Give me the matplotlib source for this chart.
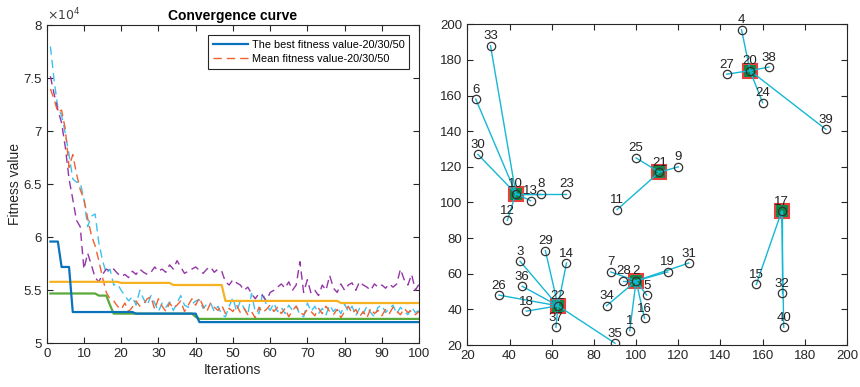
import numpy as np
import matplotlib
matplotlib.use('Agg')
import matplotlib.pyplot as plt

plt.rcParams['font.family'] = ['Liberation Sans', 'DejaVu Sans']

# ---- convergence data (fitness in units of 1e4) ----
iters = np.arange(1, 101)

best_a = [5.96]*3 + [5.72]*3 + [5.295]*17 + [5.28]*17 + [5.20]*60
best_b = [5.47]*13 + [5.45]*3 + [5.36] + [5.28]*22 + [5.25] + [5.23]*60
best_c = [5.58]*19 + [5.57]*14 + [5.55]*14 + [5.40]*31 + [5.38]*22

mean_a = [7.40, 7.30, 7.18, 7.20, 7.02, 6.66, 6.78, 6.60, 6.45, 6.36,
          6.18, 6.02, 5.92, 5.78, 5.62, 5.48, 5.42, 5.40, 5.35, 5.32,
          5.38, 5.30, 5.34, 5.40, 5.35, 5.37, 5.42, 5.44, 5.32, 5.42,
          5.35, 5.30, 5.38, 5.33, 5.36, 5.40, 5.30, 5.36, 5.42, 5.36,
          5.43, 5.35, 5.30, 5.38, 5.34, 5.31, 5.36, 5.28, 5.33, 5.30,
          5.36, 5.29, 5.33, 5.27, 5.30, 5.24, 5.34, 5.29, 5.32, 5.36,
          5.30, 5.34, 5.28, 5.33, 5.25, 5.31, 5.35, 5.29, 5.27, 5.32,
          5.30, 5.26, 5.33, 5.28, 5.35, 5.30, 5.27, 5.32, 5.24, 5.30,
          5.35, 5.28, 5.32, 5.25, 5.30, 5.24, 5.33, 5.28, 5.31, 5.26,
          5.32, 5.28, 5.34, 5.30, 5.27, 5.33, 5.29, 5.31, 5.27, 5.30]
mean_b = [7.52, 7.35, 7.20, 7.08, 6.85, 6.55, 6.36, 6.16, 6.10, 5.70,
          5.85, 5.74, 5.62, 5.58, 5.65, 5.70, 5.68, 5.70, 5.66, 5.63,
          5.65, 5.62, 5.68, 5.65, 5.70, 5.67, 5.65, 5.67, 5.72, 5.68,
          5.70, 5.67, 5.74, 5.70, 5.78, 5.72, 5.66, 5.68, 5.70, 5.72,
          5.69, 5.66, 5.70, 5.72, 5.67, 5.70, 5.68, 5.58, 5.55, 5.60,
          5.57, 5.55, 5.50, 5.53, 5.47, 5.42, 5.47, 5.45, 5.40, 5.48,
          5.50, 5.53, 5.56, 5.52, 5.58, 5.50, 5.55, 5.77, 5.48, 5.60,
          5.47, 5.50, 5.45, 5.55, 5.50, 5.64, 5.52, 5.48, 5.56, 5.50,
          5.55, 5.57, 5.50, 5.58, 5.55, 5.53, 5.50, 5.56, 5.53, 5.55,
          5.52, 5.56, 5.53, 5.56, 5.70, 5.60, 5.55, 5.65, 5.50, 5.56]
mean_c = [7.80, 7.48, 7.22, 7.15, 6.98, 6.78, 6.55, 6.52, 6.52, 6.36,
          6.10, 6.20, 6.22, 5.95, 5.78, 5.66, 5.70, 5.55, 5.56, 5.50,
          5.45, 5.40, 5.44, 5.36, 5.50, 5.42, 5.36, 5.45, 5.38, 5.30,
          5.38, 5.34, 5.39, 5.31, 5.38, 5.45, 5.36, 5.34, 5.37, 5.40,
          5.41, 5.33, 5.37, 5.38, 5.30, 5.35, 5.27, 5.25, 5.35, 5.43,
          5.30, 5.40, 5.33, 5.27, 5.47, 5.30, 5.28, 5.48, 5.36, 5.31,
          5.38, 5.30, 5.34, 5.28, 5.36, 5.31, 5.35, 5.27, 5.25, 5.38,
          5.30, 5.35, 5.28, 5.33, 5.27, 5.36, 5.30, 5.34, 5.28, 5.37,
          5.30, 5.35, 5.26, 5.33, 5.28, 5.35, 5.29, 5.25, 5.34, 5.36,
          5.29, 5.33, 5.36, 5.28, 5.34, 5.30, 5.27, 5.34, 5.29, 5.31]

# ---- clustering data ----
node_x = [97, 100, 45, 150, 105, 24, 88, 55, 120, 43,
          91, 39, 50, 67, 157, 104, 169, 48, 115, 154,
          111, 63, 67, 160, 100, 35, 143, 94, 57, 25,
          125, 169, 31, 86, 90, 46, 62, 163, 190, 170]
node_y = [28, 56, 67, 197, 48, 158, 61, 105, 120, 105,
          96, 90, 101, 66, 54, 35, 95, 39, 61, 174,
          117, 42, 105, 156, 125, 48, 172, 56, 73, 127,
          66, 49, 188, 42, 21, 53, 30, 176, 141, 30]
centers = [2, 10, 17, 20, 21, 22]
# cluster center of each node (1-based ids)
node_center = [2, 2, 22, 20, 2, 10, 2, 10, 21, 10,
               21, 10, 10, 22, 17, 2, 17, 22, 2, 20,
               21, 22, 10, 20, 21, 22, 20, 2, 22, 10,
               2, 17, 10, 2, 22, 22, 22, 20, 20, 17]

fig = plt.figure(figsize=(8.6, 3.87), dpi=100)
ax1 = fig.add_axes([0.0543, 0.1129, 0.433, 0.8217])
ax2 = fig.add_axes([0.5434, 0.1085, 0.4415, 0.8287])

dash = (0, (6, 3.6))
ax1.plot(iters, mean_c, color='#3CC2EE', lw=1.0, linestyle=dash)
ax1.plot(iters, mean_b, color='#9435A6', lw=1.0, linestyle=dash)
l2, = ax1.plot(iters, mean_a, color='#F2612F', lw=1.0, linestyle=dash)
ax1.plot(iters, best_c, color='#F7B222', lw=1.6)
ax1.plot(iters, best_b, color='#5AAA3A', lw=1.6)
l1, = ax1.plot(iters, best_a, color='#0A72BD', lw=1.6)

ax1.set_xlim(0, 100)
ax1.set_ylim(5, 8)
ax1.set_xticks(np.arange(0, 101, 10))
ax1.set_yticks(np.arange(5, 8.01, 0.5))
ax1.set_yticklabels(['5', '5.5', '6', '6.5', '7', '7.5', '8'])
ax1.text(0.0, 1.005, r'$\times10^4$', transform=ax1.transAxes, fontsize=9,
         color='#404040', va='bottom', ha='left')
ax1.set_xlabel('Iterations', fontsize=10, color='#262626', labelpad=2)
ax1.set_ylabel('Fitness value', fontsize=10, color='#262626', labelpad=1)
ax1.set_title('Convergence curve', fontsize=10, fontweight='bold', pad=4)
leg = ax1.legend([l1, l2], ['The best fitness value-20/30/50', 'Mean fitness value-20/30/50'],
                 loc='upper right', fontsize=7.8, fancybox=False, framealpha=1,
                 edgecolor='#262626', borderaxespad=0.9, handlelength=3.3,
                 borderpad=0.45, labelspacing=0.35, handletextpad=0.3)
leg.get_frame().set_linewidth(0.8)

# clusters
for cid in centers:
    ax2.plot(node_x[cid-1], node_y[cid-1], 's', ms=10, mfc='#0B8A4A',
             mec='#E8403A', mew=1.5, zorder=2)
for i in range(len(node_x)):
    c = node_center[i]
    if c != i + 1:
        ax2.plot([node_x[c-1], node_x[i]], [node_y[c-1], node_y[i]],
                 color='#14B8D4', lw=1.0, zorder=3)
ax2.plot(node_x, node_y, 'o', ms=6, mfc='none', mec='#333333', mew=0.9, zorder=4)
for i in range(len(node_x)):
    ax2.annotate(str(i + 1), (node_x[i], node_y[i]), xytext=(0, 2.5),
                 textcoords='offset points', ha='center', va='bottom',
                 fontsize=9.5, color='#222222', zorder=5)

ax2.set_xlim(20, 200)
ax2.set_ylim(20, 200)
ax2.set_xticks(np.arange(20, 201, 20))
ax2.set_yticks(np.arange(20, 201, 20))

for ax in (ax1, ax2):
    ax.tick_params(direction='in', top=True, right=True, labelsize=9.5,
                   colors='#262626', length=4, width=0.8)
    for s in ax.spines.values():
        s.set_color('#262626')
        s.set_linewidth(0.8)

fig.savefig('out.png', dpi=100)
